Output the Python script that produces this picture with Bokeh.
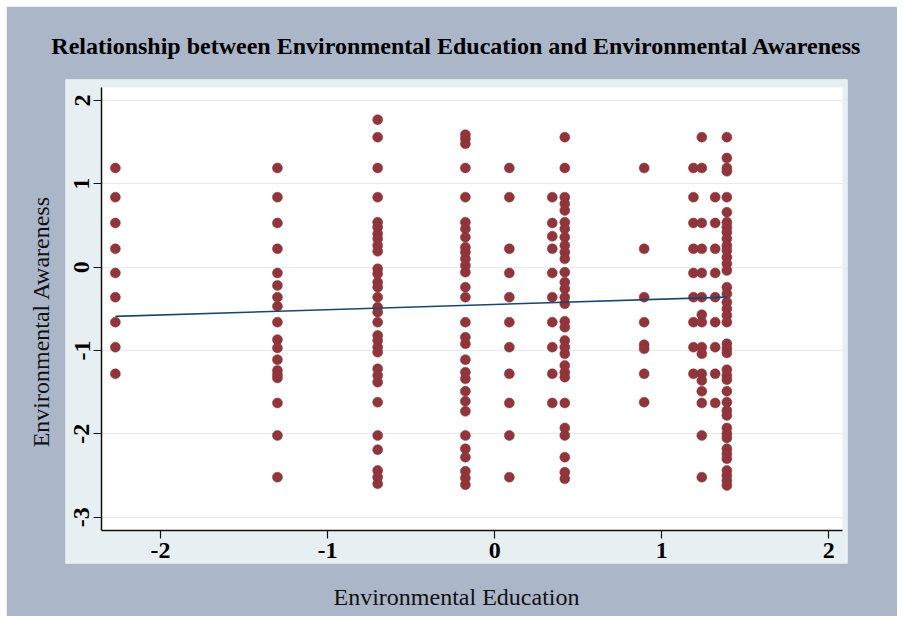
from bokeh.plotting import figure
from bokeh.models import BoxAnnotation, Range1d, FixedTicker, ColumnDataSource, LinearAxis
from bokeh.embed import file_html
from bokeh.resources import INLINE

# ---- data ----
col_x = [-2.27, -1.30, -0.70, -0.175, 0.088, 0.345, 0.42, 0.895, 1.19, 1.24, 1.32, 1.39]
col_y = [
    [1.19, 0.84, 0.53, 0.22, -0.07, -0.36, -0.66, -0.96, -1.28],
    [1.19, 0.84, 0.53, 0.22, -0.07, -0.22, -0.36, -0.47, -0.66, -0.87, -0.97, -1.11,
     -1.24, -1.29, -1.33, -1.63, -2.02, -2.52],
    [1.77, 1.56, 1.19, 0.84, 0.54, 0.48, 0.40, 0.34, 0.26, 0.19, -0.02, -0.08, -0.18,
     -0.24, -0.36, -0.48, -0.54, -0.66, -0.82, -0.88, -0.96, -1.02, -1.22, -1.30, -1.38,
     -1.62, -2.02, -2.19, -2.44, -2.52, -2.60],
    [1.59, 1.54, 1.48, 1.19, 0.84, 0.54, 0.46, 0.36, 0.24, 0.18, 0.10, 0.02, -0.06,
     -0.24, -0.36, -0.66, -0.84, -0.92, -1.11, -1.26, -1.34, -1.49, -1.61, -1.73, -2.02,
     -2.18, -2.28, -2.45, -2.53, -2.61],
    [1.19, 0.84, 0.22, -0.07, -0.36, -0.66, -0.96, -1.28, -1.63, -2.02, -2.52],
    [0.84, 0.53, 0.37, 0.22, -0.07, -0.36, -0.66, -0.96, -1.28, -1.63],
    [1.56, 1.19, 0.84, 0.76, 0.68, 0.54, 0.46, 0.36, 0.26, 0.18, 0.10, -0.06, -0.18,
     -0.26, -0.36, -0.44, -0.65, -0.72, -0.88, -0.96, -1.04, -1.18, -1.26, -1.32, -1.63,
     -1.93, -2.02, -2.28, -2.46, -2.54],
    [1.19, 0.22, -0.36, -0.66, -0.93, -0.98, -1.28, -1.62],
    [1.19, 0.84, 0.53, 0.22, -0.07, -0.36, -0.66, -0.96, -1.28],
    [1.56, 1.19, 0.53, 0.22, -0.07, -0.36, -0.57, -0.66, -0.96, -1.04, -1.28, -1.36,
     -1.49, -1.63, -2.02, -2.52],
    [0.84, 0.53, 0.22, -0.07, -0.36, -0.66, -0.96, -1.28, -1.63],
    [1.56, 1.31, 1.19, 1.15, 0.84, 0.66, 0.54, 0.48, 0.42, 0.34, 0.26, 0.20, 0.12, 0.04,
     -0.04, -0.24, -0.32, -0.42, -0.50, -0.58, -0.66, -0.92, -0.98, -1.03, -1.23, -1.30,
     -1.35, -1.49, -1.62, -1.72, -1.78, -1.93, -2.00, -2.05, -2.18, -2.24, -2.30, -2.44,
     -2.50, -2.56, -2.62],
]
fit_x = [-2.27, 1.39]
fit_y = [-0.59, -0.36]
x_ticks = [-2, -1, 0, 1, 2]
y_ticks = [-3, -2, -1, 0, 1, 2]

title_text = "Relationship between Environmental Education and Environmental Awareness"
x_label = "Environmental Education"
y_label = "Environmental Awareness"

# ---- build table ----
xs, ys = [], []
for cx, cys in zip(col_x, col_y):
    for cy in cys:
        xs.append(cx)
        ys.append(cy)
src = ColumnDataSource(dict(x=xs, y=ys))

OUTER = "#abb6c9"
PANEL = "#e8eff2"
SERIF = "Liberation Serif"

# plot region (white) limits, in data units
PX0, PX1 = -2.353, 2.082
PY0, PY1 = -3.16, 2.156

p = figure(width=891, height=610, output_backend="svg", toolbar_location=None,
           x_range=Range1d(-2.5685, 2.112), y_range=Range1d(-3.556, 2.252),
           min_border_left=59, min_border_right=50, min_border_top=73,
           min_border_bottom=53, title=title_text)
p.margin = (6, 0, 0, 6)
p.border_fill_color = OUTER
p.background_fill_color = PANEL
p.outline_line_color = None

white_box = BoxAnnotation(left=PX0, right=PX1, bottom=PY0, top=PY1,
                          fill_color="white", fill_alpha=1.0, line_color=None,
                          level="underlay")
p.center = [white_box] + list(p.center)

p.title.text_font = SERIF
p.title.text_font_size = "24px"
p.title.text_font_style = "bold"
p.title.text_color = "black"
p.title.align = "center"
p.title.standoff = 42

p.xgrid.visible = False
p.ygrid.grid_line_color = "#e4ecee"
p.ygrid.grid_line_width = 1
p.ygrid.ticker = FixedTicker(ticks=y_ticks)
if "cross_bounds" in p.ygrid[0].properties():
    p.ygrid.cross_bounds = (PX0, PX1)

for ax in (p.xaxis[0], p.yaxis[0]):
    ax.axis_line_color = "#111111"
    ax.axis_line_width = 1.5
    ax.major_tick_line_color = "#111111"
    ax.major_tick_line_width = 1.2
    ax.major_tick_out = 8
    ax.major_tick_in = 0
    ax.minor_tick_line_color = None
    ax.major_label_text_font = SERIF
    ax.major_label_text_font_size = "24px"
    ax.major_label_text_font_style = "bold"
    ax.major_label_text_color = "black"
    ax.major_label_standoff = 4

p.xaxis.ticker = FixedTicker(ticks=x_ticks)
p.yaxis.ticker = FixedTicker(ticks=y_ticks)
p.xaxis.major_label_overrides = {t: str(t) for t in x_ticks}
p.yaxis.major_label_overrides = {t: str(t) for t in y_ticks}
p.xaxis.fixed_location = PY0
p.yaxis.fixed_location = PX0
p.xaxis.bounds = (PX0, PX1)
p.yaxis.bounds = (PY0, PY1)
p.yaxis.major_label_orientation = "vertical"


def label_axis(text, standoff):
    ax = LinearAxis(ticker=FixedTicker(ticks=[]), axis_label=text)
    ax.axis_line_color = None
    ax.major_tick_line_color = None
    ax.minor_tick_line_color = None
    ax.major_tick_out = 0
    ax.major_tick_in = 0
    ax.major_label_standoff = 0
    ax.axis_label_standoff = standoff
    ax.axis_label_text_font = SERIF
    ax.axis_label_text_font_size = "24px"
    ax.axis_label_text_font_style = "normal"
    ax.axis_label_text_color = "#111111"
    return ax


p.add_layout(label_axis(y_label, 12), "left")
p.add_layout(label_axis(x_label, 20), "below")

p.scatter("x", "y", source=src, size=10, fill_color="#90353b", line_color="#90353b",
          line_width=0.5)
p.line(fit_x, fit_y, line_color="#1a476f", line_width=1.6)

open("out.html", "w").write(file_html(p, INLINE))
